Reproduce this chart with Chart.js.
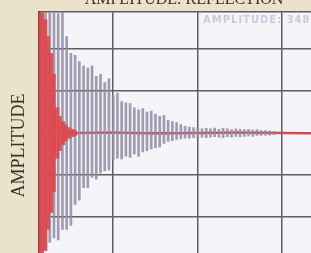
<!DOCTYPE html>
<html lang="en">
  <head>
    <title>Amplitude: Reflection</title>
    <style>
      html, body { margin: 0; padding: 0; background: #ebe2cc; overflow: hidden; width: 311px; height: 253px; }
      #wrap { position: absolute; left: 0; top: -14px; }
    </style>
  </head>
  <body>
    <div id="wrap">
      <canvas id="myChart" width="360" height="293"></canvas>
    </div>

    <script src="https://cdn.jsdelivr.net/npm/chart.js"></script>

    <script>
      // grey trace: spike times and their upper / lower reach
      var grayTimes = [0.14, 0.19, 0.24, 0.29, 0.34, 0.39, 0.44, 0.49, 0.54, 0.59,
        0.64, 0.69, 0.74, 0.79, 0.84, 0.89, 0.94, 0.99, 1.04, 1.09,
        1.14, 1.19, 1.24, 1.29, 1.34, 1.39, 1.44, 1.49, 1.54, 1.59,
        1.64, 1.69, 1.74, 1.79, 1.84, 1.89, 1.94, 1.99, 2.04, 2.09,
        2.14, 2.19, 2.24, 2.29, 2.34, 2.39, 2.44, 2.49, 2.54, 2.59,
        2.64, 2.69, 2.74, 2.79, 2.84, 2.89];
      var grayHigh = [3.0, 3.0, 2.9, 3.0, 2.85, 3.0, 2.3, 1.9, 1.85, 1.7,
        1.6, 1.55, 1.6, 1.35, 1.4, 1.2, 1.3, 0.9, 0.95, 0.75,
        0.72, 0.7, 0.6, 0.55, 0.58, 0.5, 0.52, 0.45, 0.4, 0.42,
        0.3, 0.27, 0.25, 0.2, 0.16, 0.14, 0.13, 0.12, 0.1, 0.11,
        0.1, 0.12, 0.09, 0.11, 0.1, 0.08, 0.1, 0.09, 0.08, 0.09,
        0.07, 0.08, 0.06, 0.06, 0.05, 0.04];
      var grayLow = [-2.9, -2.8, -2.6, -2.5, -2.55, -2.3, -2.3, -2.2, -1.7, -1.6,
        -1.3, -1.3, -1.05, -1.1, -0.95, -0.9, -0.88, -0.65, -0.6, -0.62,
        -0.55, -0.58, -0.5, -0.55, -0.45, -0.42, -0.38, -0.35, -0.33, -0.25,
        -0.2, -0.18, -0.15, -0.14, -0.12, -0.12, -0.11, -0.12, -0.1, -0.11,
        -0.1, -0.09, -0.1, -0.11, -0.09, -0.1, -0.08, -0.09, -0.08, -0.07,
        -0.08, -0.06, -0.06, -0.05, -0.05, -0.04];

      // red trace: strong early burst, then a thin line
      var redTimes = [0.11, 0.15, 0.18, 0.22, 0.25, 0.29, 0.32, 0.36, 0.39, 0.43, 0.46, 0.5, 0.54, 0.57];
      var redHigh = [3.0, 3.0, 3.0, 2.7, 2.3, 1.9, 1.4, 0.6, 0.4, 0.27, 0.19, 0.13, 0.09, 0.06];
      var redLow = [-3.5, -3.5, -3.2, -2.8, -2.3, -1.9, -1.4, -0.6, -0.42, -0.28, -0.19, -0.13, -0.09, -0.06];
      var tailTimes = [0.55, 1.0, 1.5, 2.0, 2.5, 3.0, 3.5, 3.9];
      var tailValues = [0, 0.01, -0.01, 0, 0.01, 0, -0.01, 0];

      var xTicks = [1, 2, 3];
      var yTicks = [-3, -2, -1, 0, 1, 2];

      var gridColor = "#625c5a";

      // pale plot background
      var plotBg = {
        id: "plotBg",
        beforeDraw: function (chart) {
          var a = chart.chartArea;
          var ctx = chart.ctx;
          ctx.save();
          ctx.fillStyle = "#f5f4f8";
          ctx.fillRect(a.left, a.top, a.right - a.left, a.bottom - a.top);
          ctx.restore();
        },
      };

      // faint readout in the top right corner
      var readout = {
        id: "readout",
        beforeDatasetsDraw: function (chart) {
          var ctx = chart.ctx;
          ctx.save();
          ctx.font = "bold 10px 'DejaVu Sans'";
          ctx.letterSpacing = "1px";
          ctx.fillStyle = "#cdc9dc";
          ctx.textBaseline = "middle";
          ctx.fillText("AMPLITUDE: 348", 203, chart.chartArea.top + 8);
          ctx.restore();
        },
      };

      const ctx = document.getElementById("myChart");
      new Chart(ctx, {
        type: "bar",
        data: {
          datasets: [
            {
              label: "burst",
              data: redTimes.map((t, i) => ({ x: t, y: [redLow[i], redHigh[i]] })),
              backgroundColor: "rgba(221, 72, 78, 0.9)",
              barThickness: 4,
              order: 0,
            },
            {
              label: "signal",
              data: grayTimes.map((t, i) => ({ x: t, y: [grayLow[i], grayHigh[i]] })),
              backgroundColor: "rgba(143, 140, 165, 0.85)",
              barThickness: 2,
              order: 1,
            },
            {
              type: "line",
              label: "tail",
              data: tailTimes.map((t, i) => ({ x: t, y: tailValues[i] })),
              borderColor: "rgba(214, 70, 76, 0.9)",
              borderWidth: 2.5,
              pointRadius: 0,
              order: 2,
            },
          ],
        },
        options: {
          responsive: false,
          animation: false,
          layout: { padding: { left: 8, right: 0, bottom: 0, top: 0 } },
          plugins: {
            legend: { display: false },
            tooltip: { enabled: false },
            title: {
              display: true,
              text: "AMPLITUDE: REFLECTION",
              color: "#3b2f27",
              font: { family: "Liberation Serif", size: 16, weight: "normal" },
              padding: { top: 4, bottom: 3 },
            },
          },
          scales: {
            x: {
              type: "linear",
              offset: false,
              min: 0.12,
              max: 3.92,
              afterBuildTicks: (scale) => { scale.ticks = xTicks.map((v) => ({ value: v })); },
              ticks: { display: false },
              grid: { color: gridColor, lineWidth: 1.5, drawTicks: false, offset: false },
              border: { display: false },
            },
            y: {
              min: -3.48,
              max: 2.88,
              afterBuildTicks: (scale) => { scale.ticks = yTicks.concat([2.88]).map((v) => ({ value: v })); },
              ticks: { display: false },
              grid: { color: gridColor, lineWidth: 1.5, drawTicks: false },
              border: { display: true, color: "#4e4038", width: 2 },
              title: {
                display: true,
                text: "AMPLITUDE",
                color: "#3b2f27",
                font: { family: "Liberation Serif", size: 18, weight: "normal" },
                padding: { top: 0, bottom: 9 },
              },
            },
          },
        },
        plugins: [plotBg, readout],
      });
    </script>
  </body>
</html>
